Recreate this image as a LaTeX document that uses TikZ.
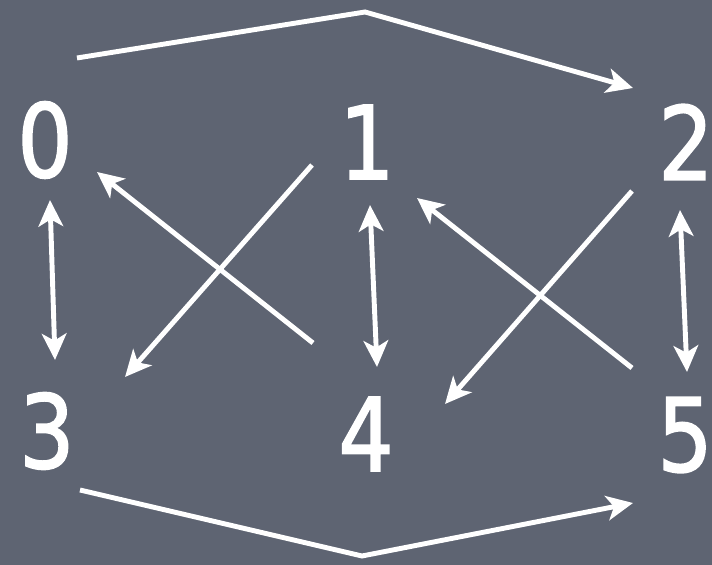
\documentclass[tikz,border=0pt]{standalone}
\usepackage{fontspec}
\setmainfont{DejaVu Sans}[FakeBold=1.6, FakeStretch=0.85]
\usetikzlibrary{%
	calc,%
	arrows.meta,%
}
\definecolor{cslate}{RGB}{94, 100, 114}
\tikzset{
	>={Stealth[length=15pt, width=14pt, inset=4pt]},%
	vertex/.style={%
			text=white,%
			inner sep=0pt,%
			font={\fontsize{58}{58}\selectfont}},%
	link/.style={%
			draw=white,%
			line width=2.8pt},%
}

\begin{document}
\begin{tikzpicture}
	\fill[cslate] (0,0) rectangle (14.24,11.30);
	\useasboundingbox (0,0) rectangle (14.24,11.30);

	\node[vertex] (n0) at (0.90,8.50) {0};
	\node[vertex] (n1) at (7.34,8.46) {1};
	\node[vertex] (n2) at (13.72,8.46) {2};
	\node[vertex] (n3) at (0.94,2.68) {3};
	\node[vertex] (n4) at (7.32,2.62) {4};
	\node[vertex] (n5) at (13.70,2.60) {5};

	\coordinate (top) at ($(n1)+(-0.04,2.60)$);
	\coordinate (bot) at ($(n4)+(-0.08,-2.44)$);

	\draw[link, ->] ($(n0)+(0.64,1.64)$) -- (top) -- ($(n2)+(-1.06,1.08)$);
	\draw[link, ->] ($(n3)+(0.66,-1.18)$) -- (bot) -- ($(n5)+(-1.04,-1.36)$);
	\draw[link, <->] ($(n0)+(0.10,-1.20)$) -- ($(n3)+(0.16,1.42)$);
	\draw[link, <->] ($(n1)+(0.06,-1.26)$) -- ($(n4)+(0.22,1.34)$);
	\draw[link, <->] ($(n2)+(-0.12,-1.36)$) -- ($(n5)+(0.04,1.26)$);
	\draw[link, ->] ($(n4)+(-1.06,1.82)$) -- ($(n0)+(1.04,-0.64)$);
	\draw[link, ->] ($(n1)+(-1.10,-0.46)$) -- ($(n3)+(1.56,1.08)$);
	\draw[link, ->] ($(n5)+(-1.06,1.34)$) -- ($(n1)+(1.00,-1.12)$);
	\draw[link, ->] ($(n2)+(-1.08,-0.98)$) -- ($(n4)+(1.58,0.60)$);
\end{tikzpicture}
\end{document}
